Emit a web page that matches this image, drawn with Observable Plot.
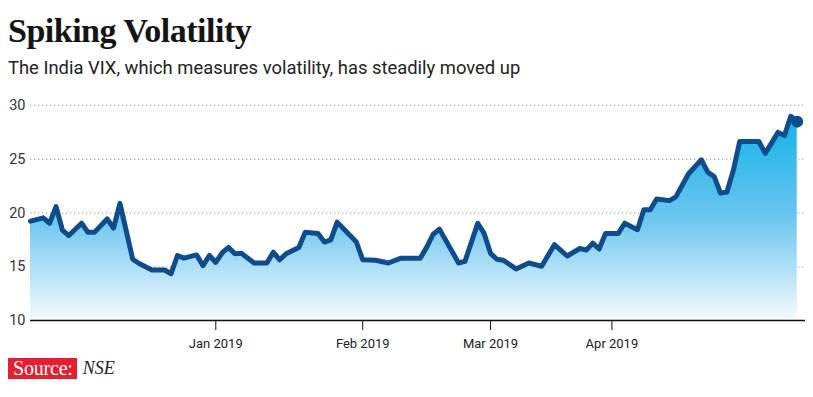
<!DOCTYPE html>
<html>
<head>
<meta charset="utf-8">
<script src="https://cdn.jsdelivr.net/npm/d3@7"></script>
<script src="https://cdn.jsdelivr.net/npm/@observablehq/plot@0.6"></script>
<style>
  html, body { margin: 0; padding: 0; background: #fff; }
  body { width: 813px; height: 397px; overflow: hidden; position: relative; font-family: Roboto, sans-serif; }
  #title { position: absolute; left: 8px; top: 14px; font: bold 34px/34px "Liberation Serif", serif; letter-spacing: -0.5px; color: #141414; white-space: nowrap; }
  #sub { position: absolute; left: 8px; top: 59px; font: 18.4px/18px Roboto, sans-serif; color: #222; white-space: nowrap; }
  #chart { position: absolute; left: 0; top: 90px; }
  #src { position: absolute; left: 8px; top: 358px; height: 21px; display: flex; align-items: center; }
  #src .tag { background: #e2202f; color: #fff; font: 20px/21px "Liberation Serif", serif; padding: 0 4px 0 5px; height: 21px; letter-spacing: -0.2px; }
  #src .name { font: italic 18px/21px "Liberation Serif", serif; color: #222; margin-left: 6px; }
</style>
</head>
<body>
<div id="title">Spiking Volatility</div>
<div id="sub">The India VIX, which measures volatility, has steadily moved up</div>
<div id="chart"></div>
<div id="src"><span class="tag">Source:</span><span class="name">NSE</span></div>
<script>
// Trading-day index (0 = first session shown, ~19 Nov 2018) and India VIX close
const day = [0, 2, 3, 4, 5, 6, 8, 9, 10, 12, 13, 14, 16, 17, 19, 21, 22, 23, 24, 26,
  27, 28, 29, 30, 31, 32, 33, 35, 37, 38, 39, 40, 42, 43, 45, 46, 47, 48, 51, 52,
  54, 56, 58, 61, 62, 63, 64, 67, 68, 70, 71, 72, 73, 74, 76, 78, 80, 82, 84, 86,
  87, 88, 89, 90, 92, 93, 95, 96, 97, 98, 100, 101, 103, 105, 106, 107, 108, 109, 110, 111,
  114, 115, 117, 118, 119, 120];
const vix = [19.24, 19.55, 19.05, 20.6, 18.4, 17.9, 19.05, 18.2, 18.2, 19.45, 18.6, 20.9, 15.7, 15.3, 14.7, 14.7, 14.35, 16.05, 15.8, 16.1,
  15.1, 16.05, 15.4, 16.3, 16.8, 16.2, 16.25, 15.35, 15.35, 16.35, 15.65, 16.2, 16.8, 18.2, 18.1, 17.3, 17.5, 19.15, 17.3, 15.65,
  15.6, 15.35, 15.8, 15.8, 16.8, 18.0, 18.5, 15.35, 15.5, 19.05, 18.1, 16.25, 15.7, 15.6, 14.8, 15.35, 15.05, 17.05, 16.0, 16.7,
  16.55, 17.2, 16.65, 18.1, 18.1, 19.05, 18.45, 20.3, 20.3, 21.3, 21.15, 21.5, 23.65, 24.95, 23.8, 23.4, 21.85, 21.95, 23.95, 26.65,
  26.65, 25.55, 27.5, 27.2, 29.0, 28.5];
// Month ticks: trading-day index of the first session of each month
const tickDays = [29, 52, 72, 91];
const tickLabels = ["Jan 2019", "Feb 2019", "Mar 2019", "Apr 2019"];
const yTicks = [10, 15, 20, 25, 30];
const gridValues = [15, 20, 25, 30];

const data = day.map((d, i) => ({day: d, vix: vix[i]}));
const last = [data[data.length - 1]];
const labelOf = new Map(tickDays.map((d, i) => [d, tickLabels[i]]));

const defs = () => {
  const g = d3.create("svg:defs");
  const lg = g.append("linearGradient").attr("id", "vixgrad")
    .attr("x1", 0).attr("y1", 0).attr("x2", 0).attr("y2", 1);
  lg.append("stop").attr("offset", "0%").attr("stop-color", "#10b2e9");
  lg.append("stop").attr("offset", "50%").attr("stop-color", "#6cc6ef");
  lg.append("stop").attr("offset", "100%").attr("stop-color", "#f6fbfe");
  return g.node();
};

const chart = Plot.plot({
  width: 813,
  height: 265,
  marginTop: 15,
  marginBottom: 35,
  marginLeft: 30,
  marginRight: 8,
  style: {fontFamily: "Roboto, sans-serif", background: "transparent", color: "#222"},
  x: {domain: [0, 121.3], axis: null, label: null},
  y: {domain: [10, 30], axis: null, label: null},
  marks: [
    defs,
    Plot.ruleY(gridValues, {stroke: "#b8b8b8", strokeWidth: 1.3, strokeDasharray: "1.3,2.7"}),
    Plot.areaY(data, {x: "day", y1: 10, y2: "vix", fill: "url(#vixgrad)"}),
    Plot.lineY(data, {x: "day", y: "vix", stroke: "#0f4c8c", strokeWidth: 5, strokeLinejoin: "round", strokeLinecap: "round"}),
    Plot.dot(last, {x: "day", y: "vix", r: 6, fill: "#0f4c8c"}),
    Plot.ruleY([10], {stroke: "#111", strokeWidth: 1.5}),
    Plot.axisX(tickDays, {tickFormat: d => labelOf.get(d), tickSize: 10, tickPadding: 8, fontSize: 13, stroke: "#111", fill: "#222", label: null}),
    Plot.axisY(yTicks, {tickSize: 0, tickPadding: 5, fontSize: 14.5, fill: "#333", label: null})
  ]
});
document.getElementById("chart").appendChild(chart);
</script>
</body>
</html>
